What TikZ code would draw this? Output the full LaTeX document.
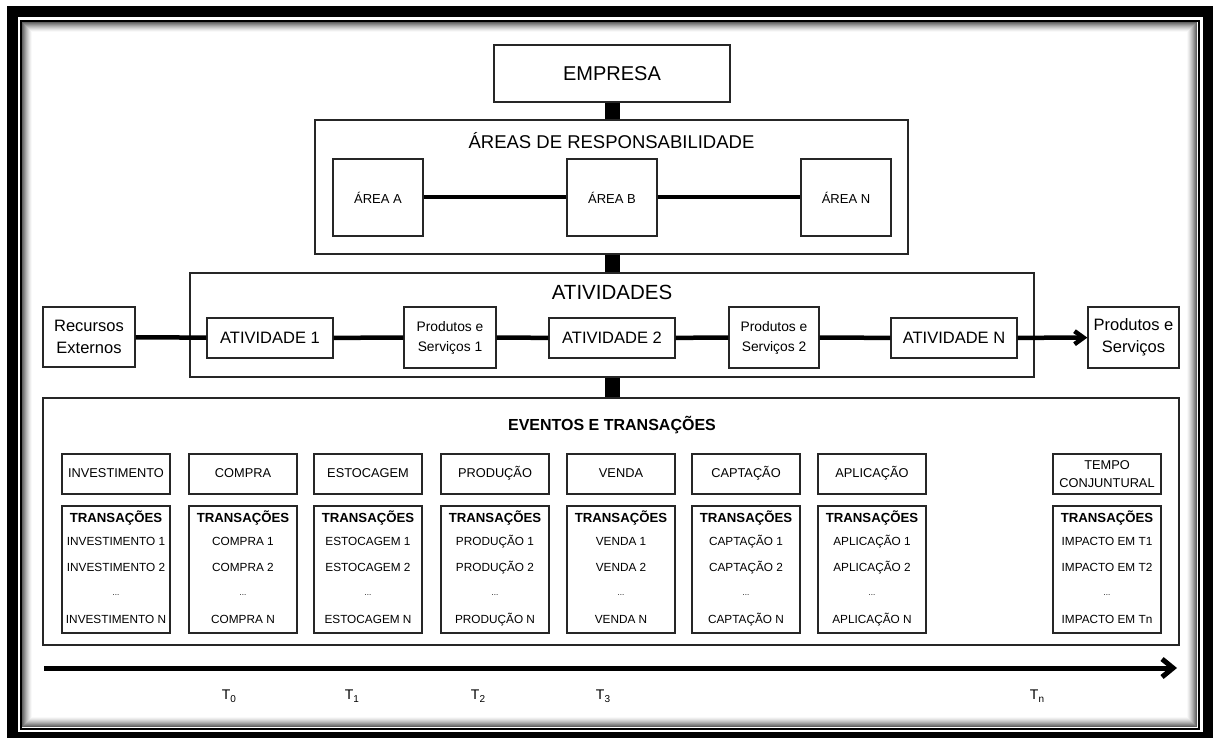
\documentclass[tikz,border=0pt]{standalone}
\usepackage{fontspec}
\setmainfont{Liberation Sans}
\usetikzlibrary{arrows.meta,calc}
\newcommand{\fsz}[2]{\fontsize{#1}{#2}\selectfont}

\begin{document}
\begin{tikzpicture}[x=1pt,y=-1pt,
  box/.style={draw=black!85, line width=1.3pt, fill=white, inner sep=0pt, align=center},
  link/.style={line width=4.5pt, black},
  stem/.style={line width=15pt, black},
  title/.style={inner sep=0pt, align=center},
  item/.style={inner sep=0pt, align=center, font=\fsz{11.8}{13}, text height=8.5pt, text depth=2.5pt},
  headone/.style={text height=9pt, text depth=2.5pt},
  headtwo/.style={},
  tick/.style={inner sep=0pt, font=\fsz{14}{14}}]
\useasboundingbox (0,0) rectangle (1213,738);

% page frame: heavy border, thin rule and inset shade
\fill[white] (0,0) rectangle (1213,738);
\draw[line width=11pt, black] (12.5,11.5) rectangle (1208.5,737.5);
\draw[line width=2pt, black] (21,21) rectangle (1198.5,728.5);
\foreach \k in {0,...,9}{
  \pgfmathsetmacro{\shade}{62*(1-\k/10)^1.4}
  \draw[line width=1.1pt, black!\shade] (22.5+\k,22.5+\k) rectangle (1196.5-\k,726.5-\k);
}

% company and areas of responsibility
\node[box, minimum width=236pt, minimum height=57pt, font=\fsz{20}{24}] (empresa) at (612,73.5) {EMPRESA};
\node[box, minimum width=593pt, minimum height=134pt] (areas) at (611.5,187) {};
\node[title, font=\fsz{18.5}{22}] (areastitle) at (611.5,141) {ÁREAS DE RESPONSABILIDADE};
\node[box, minimum width=90pt, minimum height=77pt, font=\fsz{13}{16}] (areaA) at (378,197.5) {ÁREA A};
\node[box, minimum width=90pt, minimum height=77pt, font=\fsz{13}{16}] (areaB) at (612,197.5) {ÁREA B};
\node[box, minimum width=90pt, minimum height=77pt, font=\fsz{13}{16}] (areaN) at (846,197.5) {ÁREA N};
\draw[line width=4pt] (areaA) -- (areaB);
\draw[line width=4pt] (areaB) -- (areaN);

% activities chain
\node[box, minimum width=844pt, minimum height=104pt] (ativ) at (612,325) {};
\node[title, font=\fsz{20.5}{24}] (ativtitle) at (612,292) {ATIVIDADES};
\node[box, minimum width=92pt, minimum height=60pt, font=\fsz{16.5}{22}] (rec) at (89,337) {Recursos\\Externos};
\node[box, minimum width=126pt, minimum height=40pt, font=\fsz{16.5}{20}] (at1) at (270,338) {ATIVIDADE 1};
\node[box, minimum width=92pt, minimum height=61pt, font=\fsz{13.8}{20}] (ps1) at (450,337.5) {Produtos e\\Serviços 1};
\node[box, minimum width=126pt, minimum height=40pt, font=\fsz{16.5}{20}] (at2) at (612,338) {ATIVIDADE 2};
\node[box, minimum width=90pt, minimum height=61pt, font=\fsz{13.8}{20}] (ps2) at (774,337.5) {Produtos e\\Serviços 2};
\node[box, minimum width=126pt, minimum height=40pt, font=\fsz{16.5}{20}] (atN) at (954,338) {ATIVIDADE N};
\node[box, minimum width=91pt, minimum height=61pt, font=\fsz{16.5}{22}] (psout) at (1133.5,337.5) {Produtos e\\Serviços};
\draw[link] (rec) -- (at1);
\draw[link] (at1) -- (ps1);
\draw[link] (ps1) -- (at2);
\draw[link] (at2) -- (ps2);
\draw[link] (ps2) -- (atN);
\draw[link, -{Straight Barb[length=9pt,width=13pt]}] (atN) -- (psout);

% events and transactions
\node[box, minimum width=1136pt, minimum height=247pt] (eventos) at (611,521.5) {};
\node[title, font=\bfseries\fsz{16}{18}] (evtitle) at (612,425) {EVENTOS E TRANSAÇÕES};

\foreach \x/\s/\h/\a/\b/\c [count=\i] in {
  116/headone/{INVESTIMENTO}/{INVESTIMENTO 1}/{INVESTIMENTO 2}/{INVESTIMENTO N},
  243/headone/{COMPRA}/{COMPRA 1}/{COMPRA 2}/{COMPRA N},
  368/headone/{ESTOCAGEM}/{ESTOCAGEM 1}/{ESTOCAGEM 2}/{ESTOCAGEM N},
  495/headone/{PRODUÇÃO}/{PRODUÇÃO 1}/{PRODUÇÃO 2}/{PRODUÇÃO N},
  621/headone/{VENDA}/{VENDA 1}/{VENDA 2}/{VENDA N},
  746/headone/{CAPTAÇÃO}/{CAPTAÇÃO 1}/{CAPTAÇÃO 2}/{CAPTAÇÃO N},
  872/headone/{APLICAÇÃO}/{APLICAÇÃO 1}/{APLICAÇÃO 2}/{APLICAÇÃO N},
  1107/headtwo/{TEMPO\\CONJUNTURAL}/{IMPACTO EM T1}/{IMPACTO EM T2}/{IMPACTO EM Tn}}{
  \node[box, \s, minimum width=108pt, minimum height=40pt, font=\fsz{12.8}{18}] (head\i) at (\x,474) {\h};
  \node[box, minimum width=108pt, minimum height=127pt] (tr\i) at (\x,569.5) {};
  \node[title, font=\bfseries\fsz{13.2}{15}, text height=9.5pt, text depth=2.5pt] (trt\i) at ($(tr\i)+(0,-50.5)$) {TRANSAÇÕES};
  \node[item] (tra\i) at ($(tr\i)+(0,-27.5)$) {\a};
  \node[item] (trb\i) at ($(tr\i)+(0,-1.5)$) {\b};
  \node[title, font=\fsz{8}{10}] (trd\i) at ($(tr\i)+(0,26)$) {...};
  \node[item] (trc\i) at ($(tr\i)+(0,50.5)$) {\c};
}

% vertical stems between levels
\draw[stem] (empresa.south) -- (empresa.south |- areas.north);
\draw[stem] (areas.south -| empresa.south) -- (empresa.south |- ativ.north);
\draw[stem] (ativ.south -| empresa.south) -- (empresa.south |- eventos.north);

% time axis
\coordinate (tstart) at (44,668);
\coordinate (tend) at (1177,668);
\draw[line width=5pt, -{Straight Barb[length=11pt,width=18pt]}] (tstart) -- (tend);
\node[tick] (t0) at (229,696) {T\raisebox{-2.5pt}{\fsz{10}{10}0}};
\node[tick] (t1) at (352,696) {T\raisebox{-2.5pt}{\fsz{10}{10}1}};
\node[tick] (t2) at (478,696) {T\raisebox{-2.5pt}{\fsz{10}{10}2}};
\node[tick] (t3) at (603,696) {T\raisebox{-2.5pt}{\fsz{10}{10}3}};
\node[tick] (tn) at (1037,696) {T\raisebox{-2.5pt}{\fsz{10}{10}n}};
\end{tikzpicture}
\end{document}
